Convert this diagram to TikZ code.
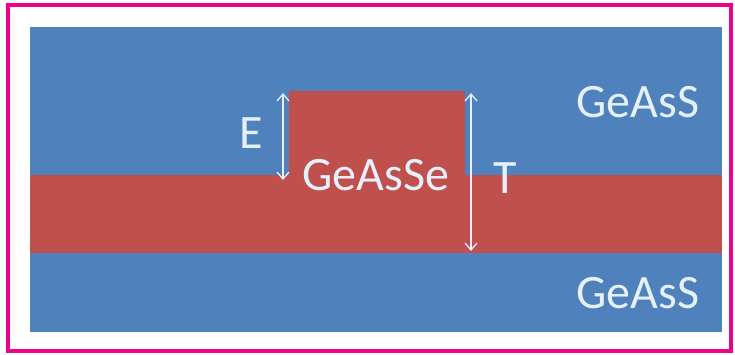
\documentclass[tikz,border=0pt]{standalone}
\usepackage{fontspec}
\setmainfont{Carlito}
\usetikzlibrary{arrows.meta}
\definecolor{cladblue}{HTML}{4F81BD}
\definecolor{corered}{HTML}{C0504D}
\definecolor{framepink}{HTML}{EC008C}
\definecolor{labelwhite}{HTML}{E6F0FA}
\begin{document}
\begin{tikzpicture}[x=1pt,y=-1pt,
  layerlbl/.style={text=labelwhite,font=\fontsize{48}{52}\selectfont,inner sep=0pt},
  dimarrow/.style={draw=labelwhite,line width=1.3pt,{Straight Barb[length=7pt,width=12pt]}-{Straight Barb[length=7pt,width=12pt]}}]
\useasboundingbox (0,0) rectangle (735,354);
\fill[white] (0,0) rectangle (735,354);
% outer frame
\draw[framepink,line width=4pt] (8,5) rectangle (731,351);
% cladding
\fill[cladblue] (30,27) rectangle (722,332);
% core slab and rib
\fill[corered] (30,175) rectangle (722,253);
\fill[corered] (289,91) rectangle (465,176);
% dimension markers
\coordinate (etop) at (283,93);
\coordinate (ebot) at (283,180);
\coordinate (ttop) at (471,93);
\coordinate (tbot) at (471,251);
\draw[dimarrow] (etop) -- (ebot);
\draw[dimarrow] (ttop) -- (tbot);
% labels
\node[layerlbl] (e) at (251,133) {E};
\node[layerlbl] (t) at (505,178) {T};
\node[layerlbl] (core) at (376,175) {GeAsSe};
\node[layerlbl] (top) at (638,102) {GeAsS};
\node[layerlbl] (bot) at (638,293) {GeAsS};
\end{tikzpicture}
\end{document}
